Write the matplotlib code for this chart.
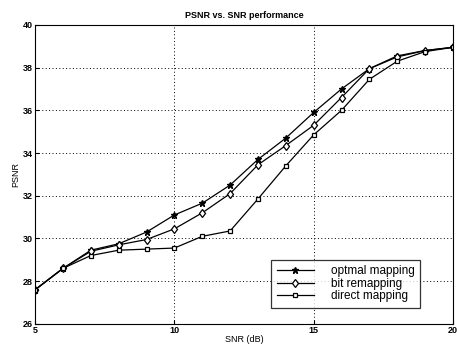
import matplotlib.pyplot as plt

snr = [5, 6, 7, 8, 9, 10, 11, 12, 13, 14, 15, 16, 17, 18, 19, 20]
optimal = [27.6, 28.6, 29.45, 29.75, 30.3, 31.1, 31.65, 32.5, 33.7, 34.7,
           35.9, 37.0, 37.95, 38.55, 38.8, 38.95]
bit_remap = [27.6, 28.6, 29.4, 29.7, 29.95, 30.45, 31.2, 32.1, 33.45, 34.35,
             35.3, 36.6, 37.95, 38.5, 38.8, 38.95]
direct = [27.6, 28.6, 29.2, 29.45, 29.5, 29.55, 30.1, 30.35, 31.85, 33.4,
          34.85, 36.0, 37.45, 38.3, 38.75, 38.95]

plt.rcParams['font.family'] = ['Liberation Sans', 'DejaVu Sans']

fig = plt.figure(figsize=(4.57, 3.46), dpi=100)
ax = fig.add_axes([0.077, 0.064, 0.914, 0.864])

ax.plot(snr, optimal, '-', color='black', lw=0.9, marker='*', ms=4.5,
        label='optmal mapping')
ax.plot(snr, bit_remap, '-', color='black', lw=0.9, marker='d', ms=4.5,
        mfc='white', mew=0.9, label='bit remapping')
ax.plot(snr, direct, '-', color='black', lw=0.9, marker='s', ms=3.5,
        mfc='white', mew=0.9, label='direct mapping')

ax.set_xlim(5, 20)
ax.set_ylim(26, 40)
ax.set_xticks([5, 10, 15, 20])
ax.set_yticks([26, 28, 30, 32, 34, 36, 38, 40])
ax.grid(True, linestyle=(0, (1, 2.5)), color='black', lw=0.7)
ax.tick_params(labelsize=6.5, direction='in', length=3, pad=1.5)
for lbl in ax.get_xticklabels() + ax.get_yticklabels():
    lbl.set_fontweight('bold')

ax.set_xlabel('SNR (dB)', fontsize=6.5, labelpad=0)
ax.set_ylabel('PSNR', fontsize=6.5, labelpad=2)
ax.set_title('PSNR vs. SNR performance', fontsize=6.5, fontweight='bold', pad=5)

leg = ax.legend(loc='lower right', bbox_to_anchor=(0.921, 0.054), fontsize=8.5,
                frameon=True, fancybox=False, edgecolor='black',
                handlelength=3.2, borderpad=0.45, labelspacing=0.05,
                handletextpad=1.4, borderaxespad=0)
leg.get_frame().set_linewidth(0.9)

fig.savefig('out.png', dpi=100)
